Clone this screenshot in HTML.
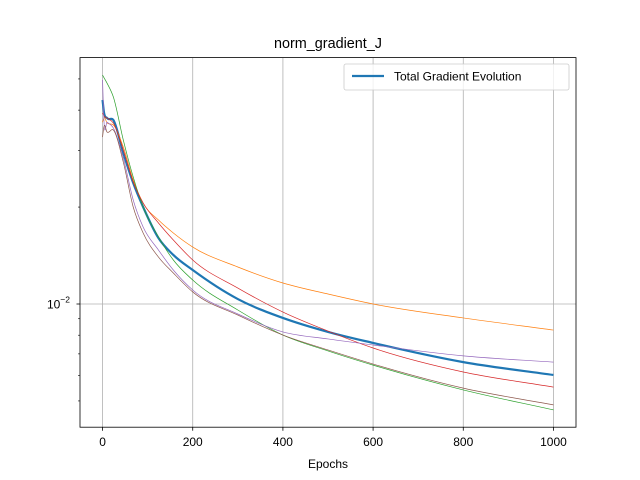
<!DOCTYPE html>
<html><head><meta charset="utf-8"><style>
html,body{margin:0;padding:0;background:#fff;}
svg{display:block;font-family:"Liberation Sans","DejaVu Sans",sans-serif;}
</style></head><body>
<svg id="chart" width="640" height="480" viewBox="0 0 640 480">
<rect width="640" height="480" fill="#fff"/>
<g id="grid"></g>
<g id="series"></g>
<rect x="80" y="57.6" width="496" height="369.6" fill="none" stroke="#000" stroke-width="0.8"/>
<g id="axes"></g>
<text x="328" y="48" text-anchor="middle" font-size="14.4">norm_gradient_J</text>
<text x="328" y="468" text-anchor="middle" font-size="12">Epochs</text>
<g>
<rect x="344" y="64" width="225" height="26" rx="2" fill="#fff" fill-opacity="0.8" stroke="#ccc" stroke-width="0.8"/>
<line x1="352" y1="76" x2="384" y2="76" stroke="#1f77b4" stroke-width="2.2"/>
<text x="394" y="80.5" font-size="12">Total Gradient Evolution</text>
</g>
</svg>
<script>
const epochs=[0,3,10,24,46,68,90,124,157,200,300,400,500,600,800,1000];
const totalSeries=[0.0430,0.0395,0.0378,0.03727,0.02944,0.02375,0.02001,0.01603,0.0142,0.01275,0.01036,0.00905,0.00819,0.00757,0.0066,0.00602];
const orangeSeries=[0.0367,0.0378,0.0365,0.03597,0.03073,0.02427,0.02059,0.01823,0.01662,0.01503,0.01303,0.01162,0.01074,0.0100,0.00905,0.0083];
const greenSeries=[0.0514,0.0505,0.0485,0.04394,0.03231,0.0248,0.02001,0.01615,0.0137,0.01187,0.00958,0.00801,0.00715,0.00646,0.00541,0.00469];
const redSeries=[0.0392,0.0384,0.0378,0.03648,0.03008,0.02393,0.02059,0.01785,0.0158,0.0137,0.01121,0.00944,0.00824,0.0073,0.00615,0.00552];
const purpleSeries=[0.0496,0.0373,0.0367,0.0352,0.02841,0.02104,0.01734,0.01471,0.01275,0.01105,0.00931,0.00819,0.00779,0.00746,0.0069,0.0066];
const brownSeries=[0.0330,0.0355,0.0342,0.0347,0.0276,0.02001,0.01662,0.01399,0.01248,0.0109,0.00924,0.00801,0.0072,0.00651,0.00548,0.00486];
const xTicks=[0,200,400,600,800,1000];
const yMinorTicks=[0.004,0.005,0.006,0.007,0.008,0.009,0.02,0.03,0.04,0.05];
const NS='http://www.w3.org/2000/svg';
function xs(e){return 80+(e+50)*496/1100;}
function ys(v){return 304-322*Math.log10(v/0.01);}
function mk(tag,attrs,parent){const el=document.createElementNS(NS,tag);for(const k in attrs)el.setAttribute(k,attrs[k]);parent.appendChild(el);return el;}
const grid=document.getElementById('grid'),axes=document.getElementById('axes'),ser=document.getElementById('series');
xTicks.forEach(t=>{
  const x=xs(t);
  const g=mk('line',{x1:x,y1:57.6,x2:x,y2:427.2,stroke:'#b0b0b0','stroke-width':0.8},grid);
  
  
  const tk=mk('line',{x1:x,y1:427.2,x2:x,y2:430.7,stroke:'#000','stroke-width':0.8},axes);
  
  
  const tx=mk('text',{x:x,y:446,'text-anchor':'middle','font-size':12},axes);
  tx.textContent=String(t);
  
  
});
{
  const y=ys(0.01);
  const g=mk('line',{x1:80,y1:y,x2:576,y2:y,stroke:'#b0b0b0','stroke-width':0.8},grid);
  
  
  const tk=mk('line',{x1:76.5,y1:y,x2:80,y2:y,stroke:'#000','stroke-width':0.8},axes);
  
  
  const tx=mk('text',{x:70,y:y+4.5,'text-anchor':'end','font-size':12},axes);
  tx.innerHTML='10<tspan dy="-6" font-size="8.5">−2</tspan>';
  
  
}
yMinorTicks.forEach(v=>{
  const y=ys(v);
  if(y<57.6||y>427.2)return;
  const tk=mk('line',{x1:78,y1:y,x2:80,y2:y,stroke:'#000','stroke-width':0.6},axes);
  
  
});
function smoothPath(px,py){
  const n=px.length,d=[],m=[];
  for(let i=0;i<n-1;i++)d.push((py[i+1]-py[i])/(px[i+1]-px[i]));
  m[0]=d[0];m[n-1]=d[n-2];
  for(let i=1;i<n-1;i++){
    const h0=px[i]-px[i-1],h1=px[i+1]-px[i];
    m[i]=(h1*d[i-1]+h0*d[i])/(h0+h1);
  }
  let p='M'+px[0].toFixed(2)+','+py[0].toFixed(2);
  for(let i=0;i<n-1;i++){const h=(px[i+1]-px[i])/3;p+=' C'+(px[i]+h).toFixed(2)+','+(py[i]+m[i]*h).toFixed(2)+' '+(px[i+1]-h).toFixed(2)+','+(py[i+1]-m[i+1]*h).toFixed(2)+' '+px[i+1].toFixed(2)+','+py[i+1].toFixed(2);}
  return p;
}
const seriesList=[
  {name:'total-gradient-line',data:totalSeries,color:'#1f77b4',w:2.2},
  {name:'series-orange-line',data:orangeSeries,color:'#ff7f0e',w:0.7},
  {name:'series-green-line',data:greenSeries,color:'#2ca02c',w:0.7},
  {name:'series-red-line',data:redSeries,color:'#d62728',w:0.7},
  {name:'series-purple-line',data:purpleSeries,color:'#9467bd',w:0.7},
  {name:'series-brown-line',data:brownSeries,color:'#8c564b',w:0.7}
];
seriesList.forEach(s=>{
  const px=epochs.map(xs),py=s.data.map(ys);
  const p=mk('path',{d:smoothPath(px,py),fill:'none',stroke:s.color,'stroke-width':s.w,'stroke-linejoin':'round'},ser);
  
  
});
</script>
</body></html>
